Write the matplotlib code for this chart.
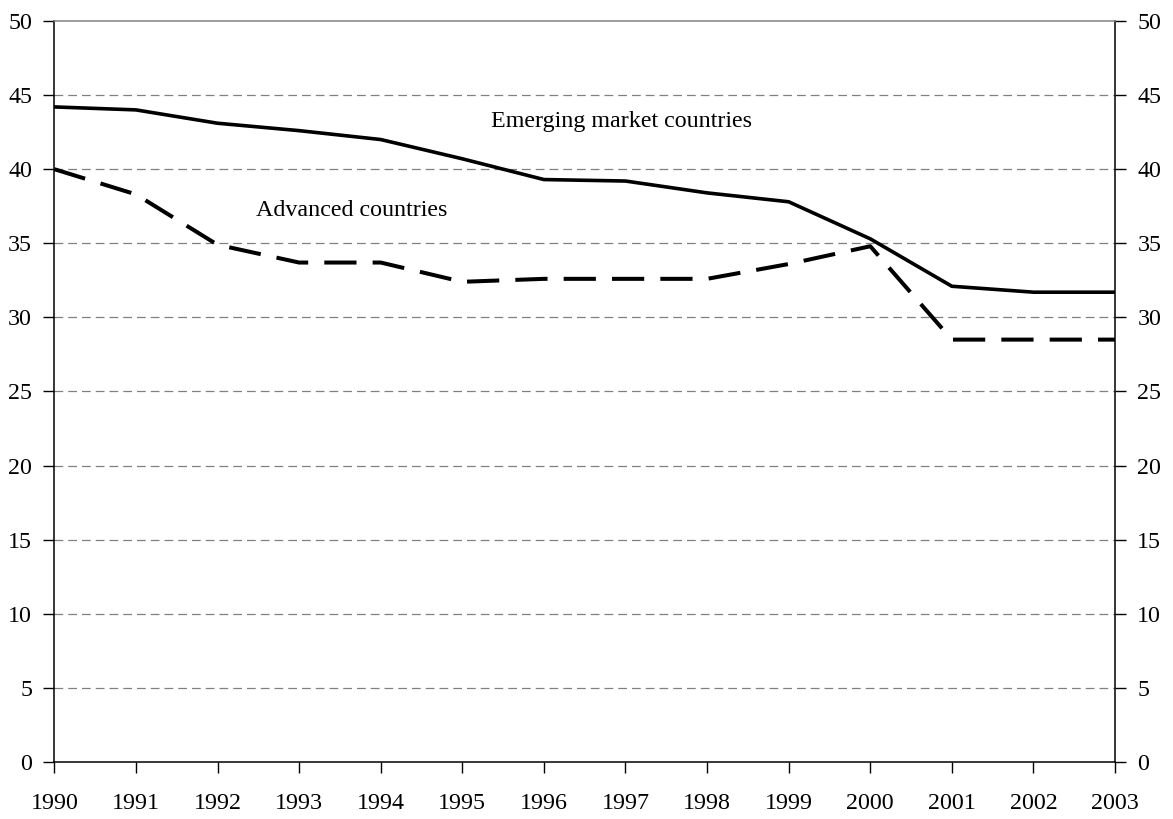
import matplotlib
matplotlib.use('Agg')
import matplotlib.pyplot as plt
import numpy as np

years = np.arange(1990, 2004)
emerging = [44.2, 44.0, 43.1, 42.6, 42.0, 40.7, 39.3, 39.2, 38.4, 37.8, 35.3, 32.1, 31.7, 31.7]
advanced = [40.0, 38.3, 34.9, 33.7, 33.7, 32.4, 32.6, 32.6, 32.6, 33.6, 34.8, 28.5, 28.5, 28.5]
yticks = np.arange(0, 51, 5)

plt.rcParams['font.family'] = ['Liberation Serif', 'DejaVu Serif']
plt.rcParams['font.size'] = 17.3

fig = plt.figure(figsize=(11.73, 8.19), dpi=100)
ax = fig.add_axes([0.0463, 0.0696, 0.9043, 0.9048])

# horizontal gridlines, dashed grey
for v in yticks[1:-1]:
    ax.axhline(v, color='#808080', lw=0.9, dashes=(7, 4), zorder=1)

ax.plot(years, emerging, color='black', lw=2.6, solid_joinstyle='miter', zorder=3)
ax.plot(years, advanced, color='black', lw=2.9, dashes=(8, 4), zorder=3)

ax.text(1996.95, 43.2, 'Emerging market countries', ha='center', va='center')
ax.text(1993.65, 37.2, 'Advanced countries', ha='center', va='center')

ax.set_xlim(1990, 2003)
ax.set_ylim(0, 50)
ax.set_xticks(years)
ax.set_yticks(yticks)
ax.tick_params(axis='x', direction='out', length=8, width=1, pad=14)
ax.tick_params(axis='y', direction='out', length=8, width=1, pad=8,
               right=True, labelright=True)

for side in ['left', 'right', 'bottom']:
    ax.spines[side].set_color('black')
    ax.spines[side].set_linewidth(1.1)
ax.spines['top'].set_color('#808080')
ax.spines['top'].set_linewidth(1.1)

plt.savefig('out.png', dpi=100)
